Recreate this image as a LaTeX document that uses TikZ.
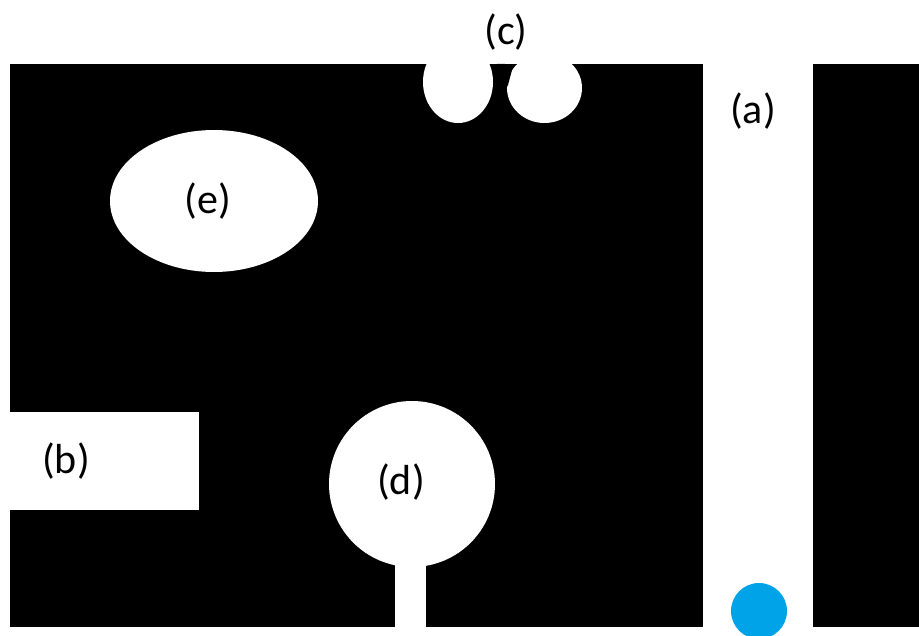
\documentclass[tikz,border=0pt]{standalone}
\usepackage{fontspec}
\setmainfont{Carlito}
\definecolor{paintblue}{RGB}{0,162,232}
\begin{document}
\begin{tikzpicture}[x=1pt,y=-1pt,
  lbl/.style={font=\fontsize{42}{42}\selectfont, text=black, inner sep=0pt},
  hole/.style={fill=white, draw=none}]
\useasboundingbox (0,0) rectangle (919,636);
\clip (0,0) rectangle (919,636);
% black plates
\fill[black] (10,64) rectangle (703,627);
\fill[black] (813,64) rectangle (919,627);
% (b) slot
\fill[white] (0,412) rectangle (199,510);
% (e) ellipse
\fill[white] (214,201) ellipse [x radius=104pt, y radius=71pt];
% (d) circle and stem
\fill[white] (412,484) circle [radius=83pt];
\fill[white] (395,540) rectangle (426,627);
% (c) two cut-outs at the top edge
\fill[white] (458,82) ellipse [x radius=35pt, y radius=41pt];
\fill[white] (544.5,88) ellipse [x radius=37.5pt, y radius=35pt];
\fill[white] (0,0) rectangle (919,64);
\fill[black] (497,64) -- (505,64) -- (505,68) -- (512,70) -- (508,85) -- (500,100) -- (494,85) -- cycle;
% blue dot
\fill[paintblue] (759,611) circle [radius=28pt];
% labels
\node[lbl] (la) at (753,111) {(a)};
\node[lbl] (lb) at (66,461) {(b)};
\node[lbl] (lc) at (506,32) {(c)};
\node[lbl] (ld) at (401,482) {(d)};
\node[lbl] (le) at (208,201) {(e)};
\end{tikzpicture}
\end{document}
